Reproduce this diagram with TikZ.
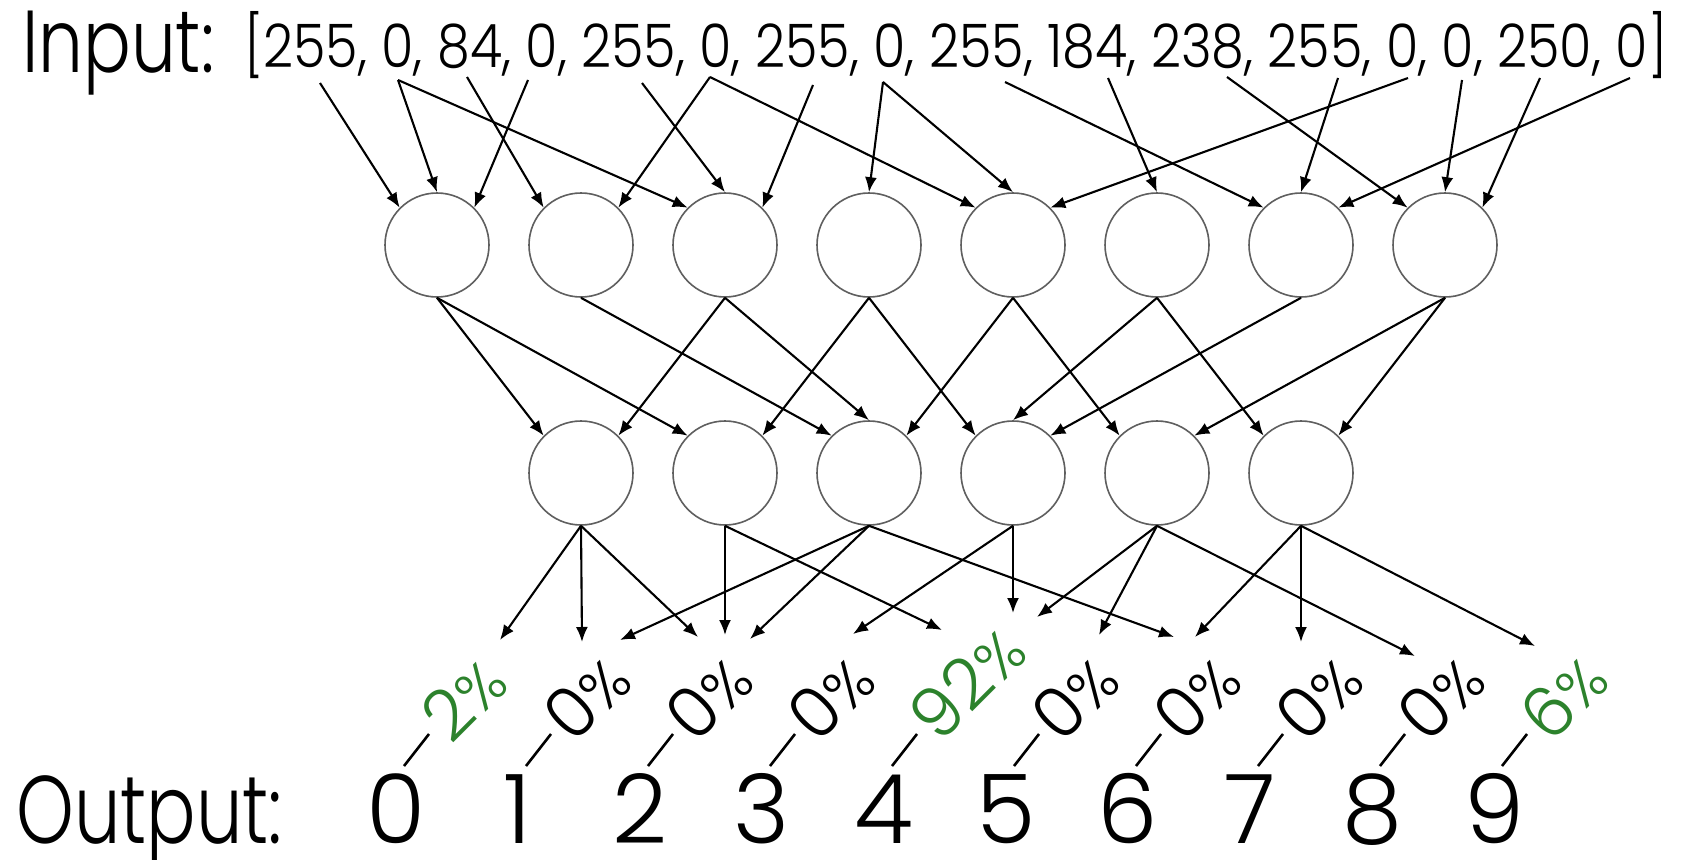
\documentclass[tikz,border=0pt]{standalone}
\usepackage{fontspec}
\usepackage{graphicx}
\setmainfont{Poppins}[UprightFont=* Light]
\usetikzlibrary{arrows.meta,calc}
\definecolor{pctgreen}{RGB}{44,130,44}
\definecolor{ringgray}{RGB}{95,95,95}
\newcommand{\pctsign}{{\fontsize{60}{60}\selectfont\%}}
\begin{document}
\begin{tikzpicture}[x=1pt,y=-1pt,
  neuron/.style={circle,draw=ringgray,line width=1.6pt,minimum size=104pt,inner sep=0pt},
  link/.style={line width=2.1pt,-{Latex[length=15pt,width=12pt]}},
  leader/.style={line width=2.6pt},
  pct/.style={rotate=45,anchor=west,inner sep=0pt,font=\fontsize{70}{70}\selectfont},
  digit/.style={anchor=base,inner sep=0pt,font=\fontsize{96}{96}\selectfont}]
\useasboundingbox (0,0) rectangle (1688,859);
\fill[white] (0,0) rectangle (1688,859);

% input vector
\node[anchor=base west,inner sep=0pt] (inlabel) at (22,72)
  {\resizebox{192pt}{\height}{\fontsize{88}{88}\selectfont Input:}};
\node[anchor=base west,inner sep=0pt] (invec) at (244,67)
  {\resizebox{1423pt}{\height}{\fontsize{60}{60}\selectfont [255, 0, 84, 0, 255, 0, 255, 0, 255, 184, 238, 255, 0, 0, 250, 0]}};
\foreach \n/\x/\y in {1/320/83, 2/398/80, 3/467/77, 4/528/80, 5/642/83, 6/710/77,
  7/813/85, 8/883/82, 9/1005/82, 10/1108/78, 11/1227/77, 12/1338/78, 13/1408/78,
  14/1462/80, 15/1540/78, 16/1630/78}
  \coordinate (e\n) at (\x,\y);

% first hidden layer
\foreach \i in {0,...,7}
  \node[neuron] (c\i) at ({437+144*\i},245) {};
% second hidden layer
\foreach \i in {0,...,5}
  \node[neuron] (d\i) at ({581+144*\i},473) {};

% input -> first layer
\foreach \s/\t in {e1/c0.north west, e2/c0.north, e2/c2.north west, e3/c1.north west,
  e4/c0.north east, e5/c2.north, e6/c1.north east, e6/c4.north west, e7/c2.north east,
  e8/c3.north, e8/c4.north, e9/c6.north west, e10/c5.north, e11/c7.north west,
  e12/c6.north, e13/c4.north east, e14/c7.north, e15/c7.north east, e16/c6.north east}
  \draw[link] (\s) -- (\t);

% first layer -> second layer
\foreach \s/\t in {c0/d0.north west, c0/d1.north west, c1/d2.north west,
  c2/d0.north east, c2/d2.north, c3/d1.north east, c3/d3.north west,
  c4/d2.north east, c4/d4.north west, c5/d3.north, c5/d5.north west,
  c6/d3.north east, c7/d4.north east, c7/d5.north east}
  \draw[link] (\s.south) -- (\t);

% output classes, each with a leader line up to its probability
\node[anchor=base west,inner sep=0pt] (outlabel) at (16,843)
  {\resizebox{266pt}{\height}{\fontsize{96}{96}\selectfont Output:}};
\foreach \k/\v/\c in {0/2/pctgreen, 1/0/black, 2/0/black, 3/0/black, 4/92/pctgreen,
  5/0/black, 6/0/black, 7/0/black, 8/0/black, 9/6/pctgreen}{
  \node[digit] (y\k) at ({396+122*\k},843) {\k};
  \draw[leader] (y\k.base) ++(8,-77) -- ++(25,-32) coordinate (te\k);
  \node[pct,text=\c] (p\k) at ($(te\k)+(5,-6)$) {\v\pctsign};
}

% second layer -> output probabilities
\foreach \s/\n/\x/\y in {d0/1/500/640, d0/2/582/642, d0/3/698/637, d1/4/725/635,
  d1/5/942/630, d2/6/620/640, d2/7/750/639, d2/8/1174/637, d3/9/853/634,
  d3/10/1013/613, d4/11/1037/617, d4/12/1099/635, d4/13/1415/656, d5/14/1195/637,
  d5/15/1301/642, d5/16/1535/646}{
  \coordinate (tip\n) at (\x,\y);
  \draw[link] (\s.south) -- (tip\n);
}
\end{tikzpicture}
\end{document}
